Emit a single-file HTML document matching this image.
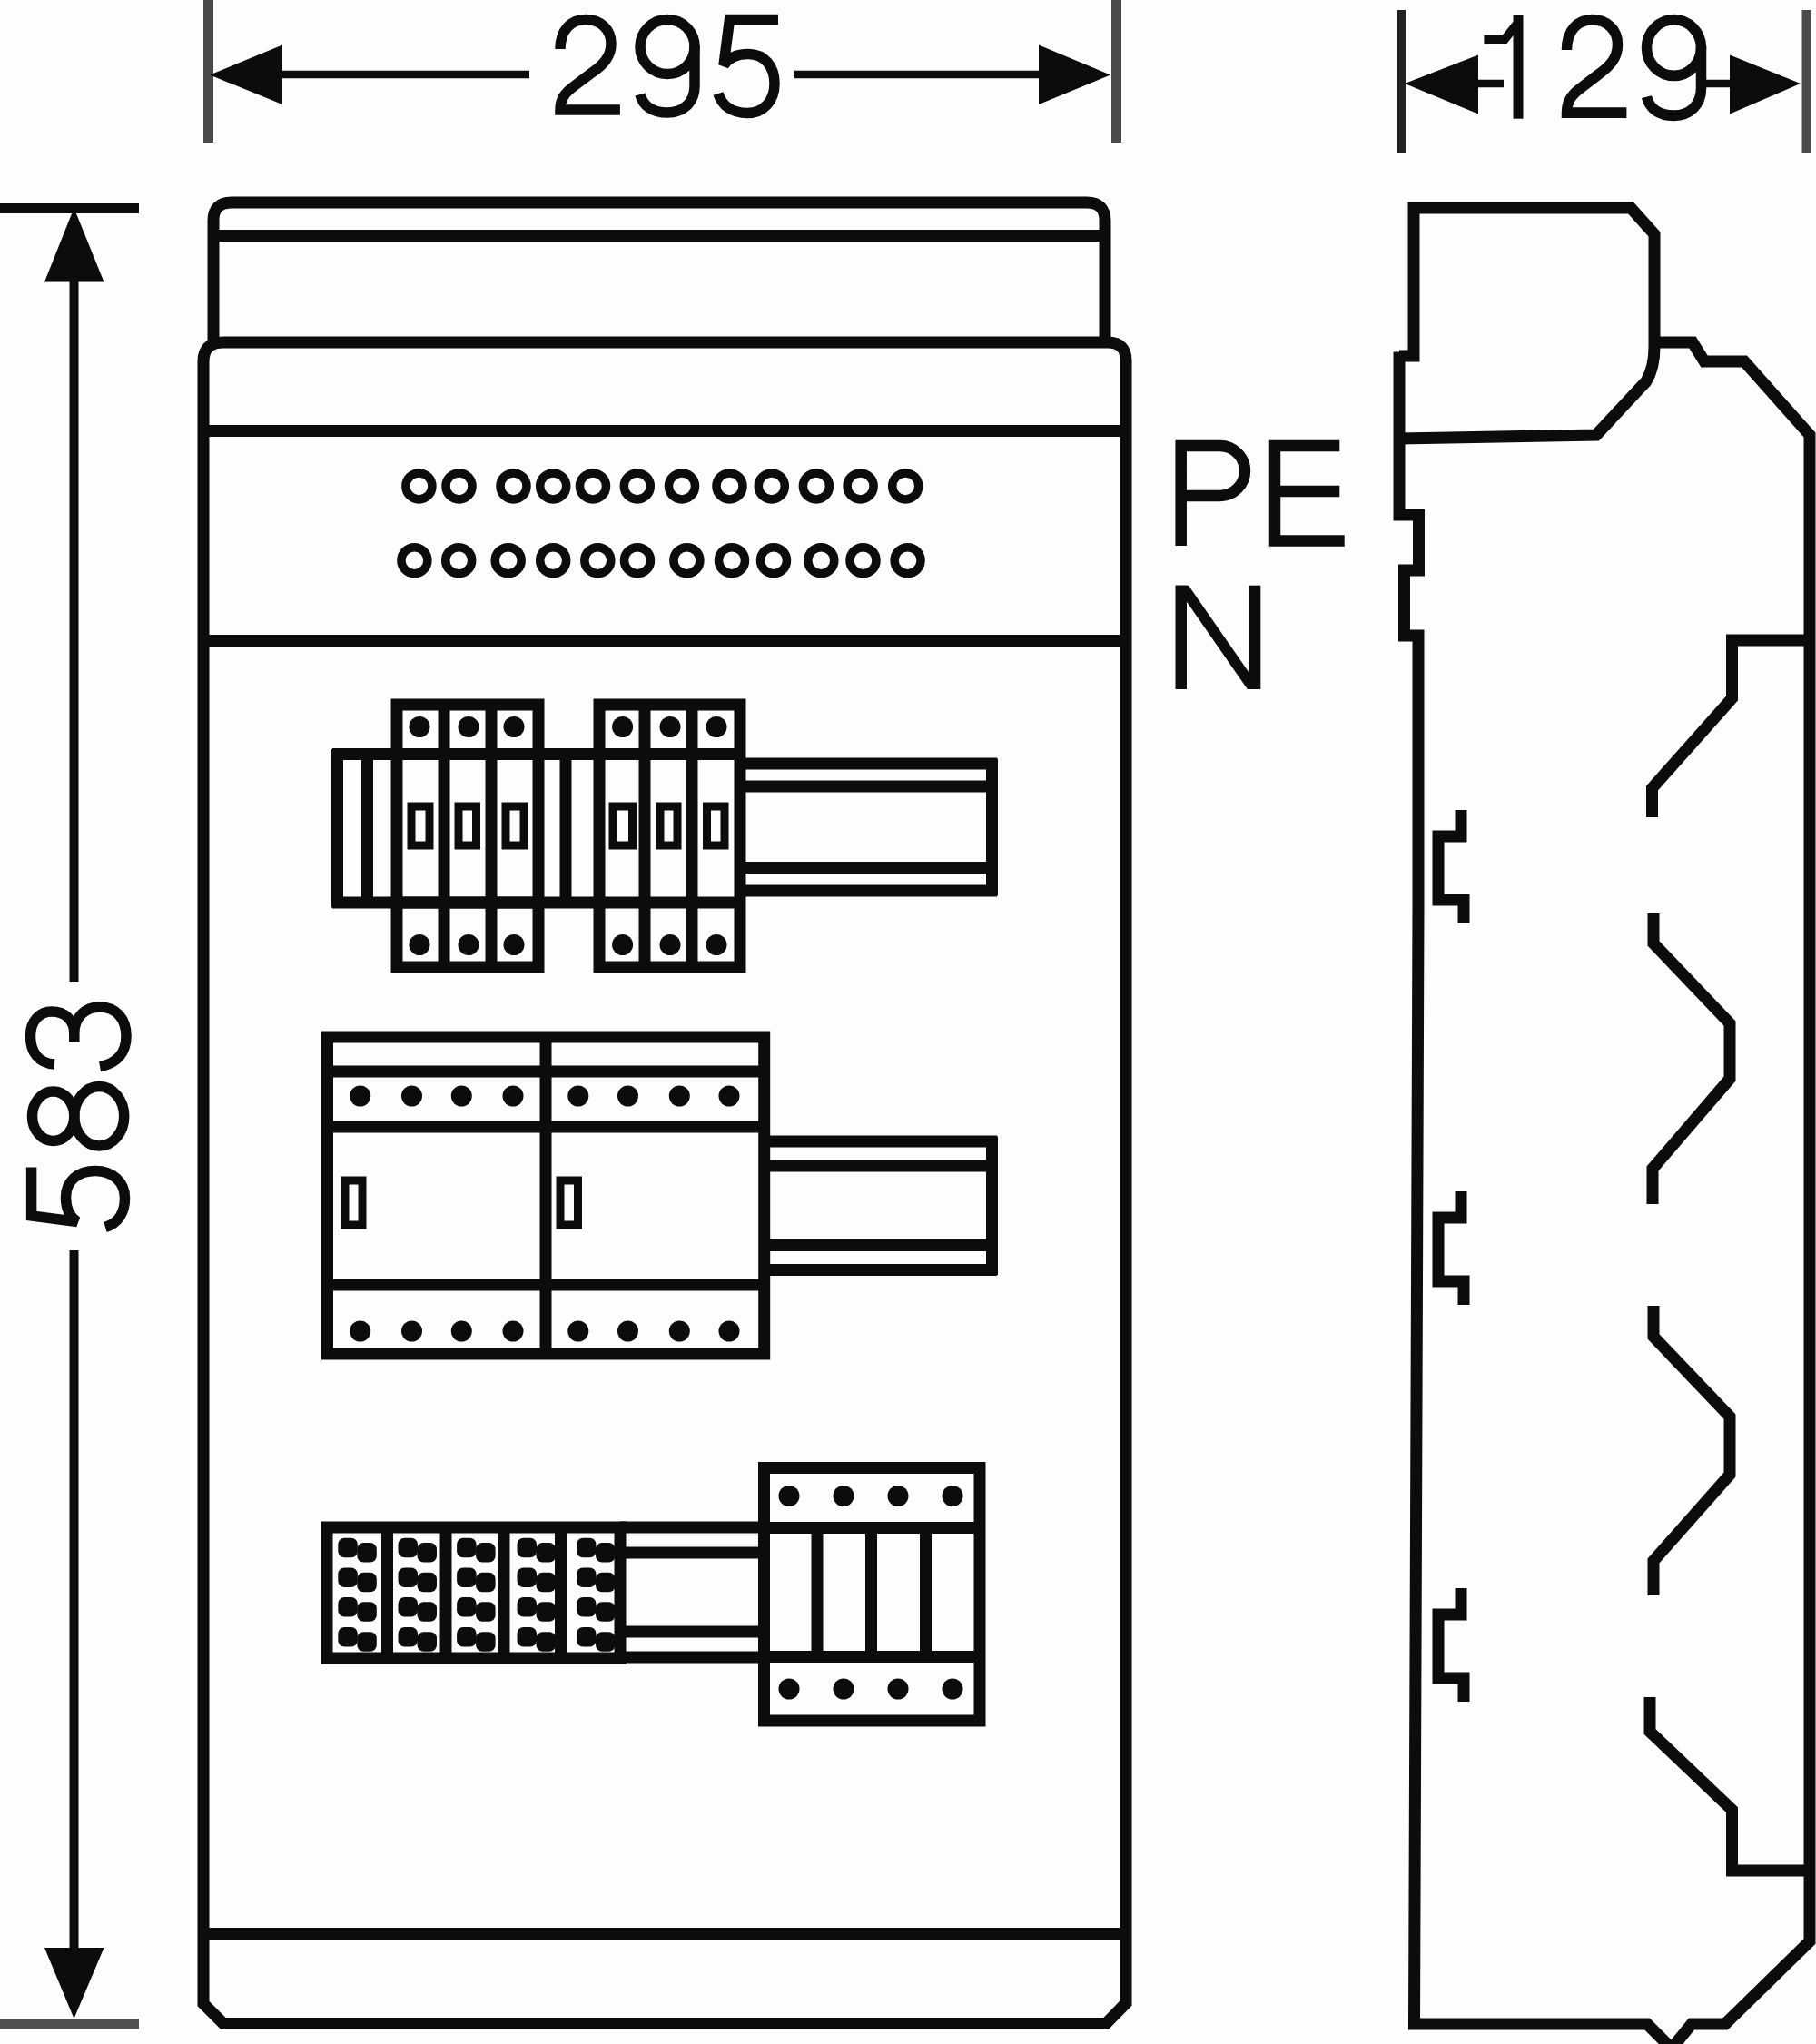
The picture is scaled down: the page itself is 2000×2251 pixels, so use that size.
<!DOCTYPE html>
<html><head><meta charset="utf-8"><title>Diagram</title>
<style>html,body{margin:0;padding:0;background:#fdfdfd;}svg{display:block}</style></head>
<body><svg width="2000" height="2251" viewBox="0 0 2000 2251" stroke-linecap="butt" stroke-linejoin="miter">
<rect width="2000" height="2251" fill="#fdfdfd"/>
<line x1="229.5" y1="0" x2="229.5" y2="157" stroke="#4a4a4a" stroke-width="11"/>
<line x1="1229.5" y1="0" x2="1229.5" y2="157" stroke="#4a4a4a" stroke-width="11"/>
<line x1="300" y1="82" x2="583" y2="82" stroke="#0c0c0c" stroke-width="8.5"/>
<line x1="875" y1="82" x2="1150" y2="82" stroke="#0c0c0c" stroke-width="8.5"/>
<polygon points="231,82.5 311,49.5 311,115" fill="#0c0c0c"/>
<polygon points="1223,82.5 1144,49.5 1144,115" fill="#0c0c0c"/>
<line x1="1543.5" y1="11" x2="1543.5" y2="168" stroke="#222" stroke-width="10"/>
<line x1="1989.5" y1="11" x2="1989.5" y2="168" stroke="#4a4a4a" stroke-width="10"/>
<line x1="1620" y1="92" x2="1656" y2="92" stroke="#0c0c0c" stroke-width="8.5"/>
<line x1="1874" y1="92" x2="1910" y2="92" stroke="#0c0c0c" stroke-width="8.5"/>
<polygon points="1547,92 1628,60.5 1628,125.5" fill="#0c0c0c"/>
<polygon points="1983,92 1905,60.5 1905,125.5" fill="#0c0c0c"/>
<line x1="0" y1="229.5" x2="153" y2="229.5" stroke="#0c0c0c" stroke-width="11"/>
<line x1="0" y1="2229" x2="153" y2="2229" stroke="#505050" stroke-width="11"/>
<line x1="81.5" y1="300" x2="81.5" y2="1081" stroke="#0c0c0c" stroke-width="10"/>
<line x1="81.5" y1="1377" x2="81.5" y2="2150" stroke="#0c0c0c" stroke-width="10"/>
<polygon points="81.5,229 49,310.5 114.5,310.5" fill="#0c0c0c"/>
<polygon points="81.5,2223 49,2145 114.5,2145" fill="#0c0c0c"/>
<path d="M617,54 C617,33 629,21.5 645,21.5 C662,21.5 673,33 673,48 C673,62 665,71 652,80 L632,95 C621,103 617,110 617,121 H682.9" fill="none" stroke="#0c0c0c" stroke-width="11.5" />
<path d="M765,50 V95 C765,113 752,124 735,124 C718,124 708,116 705,104" fill="none" stroke="#0c0c0c" stroke-width="11.5" />
<path d="M857,21.6 H803.5 L797,72 C803,63 813,59.5 824,59.5 C842,59.5 853,73 853,92 C853,111 841,124.5 823,124.5 C806,124.5 795,116 791,103" fill="none" stroke="#0c0c0c" stroke-width="11.5" />
<ellipse cx="735" cy="51.5" rx="30" ry="30" fill="none" stroke="#0c0c0c" stroke-width="11.5"/>
<g transform="translate(1108.5,-0.5) scale(1,1.03)">
<path d="M617,54 C617,33 629,21.5 645,21.5 C662,21.5 673,33 673,48 C673,62 665,71 652,80 L632,95 C621,103 617,110 617,121 H682.9" fill="none" stroke="#0c0c0c" stroke-width="11.5" />
<path d="M765,50 V95 C765,113 752,124 735,124 C718,124 708,116 705,104" fill="none" stroke="#0c0c0c" stroke-width="11.5" />
<ellipse cx="735" cy="51.5" rx="30" ry="30" fill="none" stroke="#0c0c0c" stroke-width="11.5"/>
</g>
<rect x="1666.5" y="16.2" width="11" height="114.5" fill="#0c0c0c"/>
<path d="M1634.4,43.5 H1657 L1670,27" fill="none" stroke="#0c0c0c" stroke-width="9.5" />
<g transform="matrix(0,-1,1,0,13,2142.5)">
<path d="M857,21.6 H803.5 L797,72 C803,63 813,59.5 824,59.5 C842,59.5 853,73 853,92 C853,111 841,124.5 823,124.5 C806,124.5 795,116 791,103" fill="none" stroke="#0c0c0c" stroke-width="11.5" />
</g>
<g transform="matrix(0,-1,1,0,12,1180)">
<path d="M8,48 C9,30 22,21.5 39,21.5 C56,21.5 66,32 66,45 C66,60 56,69.8 42,69.8 H33 M42,69.8 C60,69.8 71,82 71,98 C71,116 58,127 39,127 C22,127 9,118 5.5,98" fill="none" stroke="#0c0c0c" stroke-width="11.5" />
</g>
<ellipse cx="58.65" cy="1229.2" rx="23.15" ry="27.2" fill="none" stroke="#0c0c0c" stroke-width="11.5"/>
<ellipse cx="109.25" cy="1229.2" rx="27.45" ry="32.7" fill="none" stroke="#0c0c0c" stroke-width="11.5"/>
<path d="M235,380 V243 Q235,223 255,223 H1197 Q1217,223 1217,243 V380" fill="none" stroke="#0c0c0c" stroke-width="13" />
<line x1="235" y1="259.5" x2="1217" y2="259.5" stroke="#0c0c0c" stroke-width="13"/>
<path d="M246,377 H1220 Q1240,377 1240,397 V2206 L1218,2228.5 H246 L224,2206.5 V398 Q224,377 246,377 Z" fill="none" stroke="#0c0c0c" stroke-width="13" />
<line x1="224" y1="474.5" x2="1240" y2="474.5" stroke="#0c0c0c" stroke-width="13"/>
<line x1="224" y1="705.5" x2="1240" y2="705.5" stroke="#0c0c0c" stroke-width="13"/>
<line x1="224" y1="2129.5" x2="1240" y2="2129.5" stroke="#0c0c0c" stroke-width="13"/>
<circle cx="461.4" cy="535.4" r="14.5" fill="none" stroke="#0c0c0c" stroke-width="9.5"/>
<circle cx="505.5" cy="535.4" r="14.5" fill="none" stroke="#0c0c0c" stroke-width="9.5"/>
<circle cx="565.5" cy="535.4" r="14.5" fill="none" stroke="#0c0c0c" stroke-width="9.5"/>
<circle cx="609.2" cy="535.4" r="14.5" fill="none" stroke="#0c0c0c" stroke-width="9.5"/>
<circle cx="653" cy="535.4" r="14.5" fill="none" stroke="#0c0c0c" stroke-width="9.5"/>
<circle cx="701.8" cy="535.4" r="14.5" fill="none" stroke="#0c0c0c" stroke-width="9.5"/>
<circle cx="751" cy="535.4" r="14.5" fill="none" stroke="#0c0c0c" stroke-width="9.5"/>
<circle cx="803.5" cy="535.4" r="14.5" fill="none" stroke="#0c0c0c" stroke-width="9.5"/>
<circle cx="849.8" cy="535.4" r="14.5" fill="none" stroke="#0c0c0c" stroke-width="9.5"/>
<circle cx="898.9" cy="535.4" r="14.5" fill="none" stroke="#0c0c0c" stroke-width="9.5"/>
<circle cx="947.6" cy="535.4" r="14.5" fill="none" stroke="#0c0c0c" stroke-width="9.5"/>
<circle cx="997.2" cy="535.4" r="14.5" fill="none" stroke="#0c0c0c" stroke-width="9.5"/>
<circle cx="456.4" cy="617.2" r="14.5" fill="none" stroke="#0c0c0c" stroke-width="9.5"/>
<circle cx="505.2" cy="617.2" r="14.5" fill="none" stroke="#0c0c0c" stroke-width="9.5"/>
<circle cx="559.7" cy="617.2" r="14.5" fill="none" stroke="#0c0c0c" stroke-width="9.5"/>
<circle cx="609.2" cy="617.2" r="14.5" fill="none" stroke="#0c0c0c" stroke-width="9.5"/>
<circle cx="658.3" cy="617.2" r="14.5" fill="none" stroke="#0c0c0c" stroke-width="9.5"/>
<circle cx="702" cy="617.2" r="14.5" fill="none" stroke="#0c0c0c" stroke-width="9.5"/>
<circle cx="756.4" cy="617.2" r="14.5" fill="none" stroke="#0c0c0c" stroke-width="9.5"/>
<circle cx="806" cy="617.2" r="14.5" fill="none" stroke="#0c0c0c" stroke-width="9.5"/>
<circle cx="852" cy="617.2" r="14.5" fill="none" stroke="#0c0c0c" stroke-width="9.5"/>
<circle cx="904.3" cy="617.2" r="14.5" fill="none" stroke="#0c0c0c" stroke-width="9.5"/>
<circle cx="950.5" cy="617.2" r="14.5" fill="none" stroke="#0c0c0c" stroke-width="9.5"/>
<circle cx="999.6" cy="617.2" r="14.5" fill="none" stroke="#0c0c0c" stroke-width="9.5"/>
<path d="M1300.7,601 V491 H1343.5 A27.5,27.5 0 0 1 1343.5,546 H1300.7" fill="none" stroke="#0c0c0c" stroke-width="12.5" stroke-linejoin="miter"/>
<path d="M1475.3,491 H1404 V595.5 H1480.7 M1404,541 H1475.3" fill="none" stroke="#0c0c0c" stroke-width="12.5" />
<rect x="1294.5" y="644.7" width="12.5" height="114.3" fill="#0c0c0c"/>
<rect x="1375.8" y="644.7" width="12.5" height="114.3" fill="#0c0c0c"/>
<polygon points="1294.5,644.7 1309,644.7 1388.3,759 1373.8,759" fill="#0c0c0c"/>
<line x1="366" y1="830.5" x2="660" y2="830.5" stroke="#0c0c0c" stroke-width="13"/>
<line x1="366" y1="994" x2="660" y2="994" stroke="#0c0c0c" stroke-width="13"/>
<line x1="371.5" y1="825" x2="371.5" y2="999.5" stroke="#0c0c0c" stroke-width="13"/>
<line x1="404.5" y1="830" x2="404.5" y2="994" stroke="#0c0c0c" stroke-width="13"/>
<line x1="623" y1="830" x2="623" y2="994" stroke="#0c0c0c" stroke-width="13"/>
<line x1="815" y1="841" x2="1098" y2="841" stroke="#0c0c0c" stroke-width="13"/>
<line x1="815" y1="866" x2="1092" y2="866" stroke="#0c0c0c" stroke-width="13"/>
<line x1="815" y1="955.5" x2="1092" y2="955.5" stroke="#0c0c0c" stroke-width="13"/>
<line x1="815" y1="981" x2="1098" y2="981" stroke="#0c0c0c" stroke-width="13"/>
<line x1="1092.5" y1="835.5" x2="1092.5" y2="986.5" stroke="#0c0c0c" stroke-width="13"/>
<rect x="437" y="776" width="156" height="289" fill="none" stroke="#0c0c0c" stroke-width="13"/>
<line x1="489" y1="776" x2="489" y2="1065" stroke="#0c0c0c" stroke-width="13"/>
<line x1="541" y1="776" x2="541" y2="1065" stroke="#0c0c0c" stroke-width="13"/>
<line x1="437" y1="830.5" x2="593" y2="830.5" stroke="#0c0c0c" stroke-width="13"/>
<line x1="437" y1="994" x2="593" y2="994" stroke="#0c0c0c" stroke-width="13"/>
<circle cx="462" cy="800.5" r="11.5" fill="#0c0c0c"/>
<circle cx="462" cy="1040.5" r="11.5" fill="#0c0c0c"/>
<circle cx="516" cy="800.5" r="11.5" fill="#0c0c0c"/>
<circle cx="516" cy="1040.5" r="11.5" fill="#0c0c0c"/>
<circle cx="566" cy="800.5" r="11.5" fill="#0c0c0c"/>
<circle cx="566" cy="1040.5" r="11.5" fill="#0c0c0c"/>
<rect x="453" y="888" width="20" height="43" fill="none" stroke="#0c0c0c" stroke-width="9"/>
<rect x="505" y="888" width="19.5" height="43" fill="none" stroke="#0c0c0c" stroke-width="9"/>
<rect x="557" y="888" width="20" height="43" fill="none" stroke="#0c0c0c" stroke-width="9"/>
<rect x="660" y="776" width="155" height="289" fill="none" stroke="#0c0c0c" stroke-width="13"/>
<line x1="710" y1="776" x2="710" y2="1065" stroke="#0c0c0c" stroke-width="13"/>
<line x1="762" y1="776" x2="762" y2="1065" stroke="#0c0c0c" stroke-width="13"/>
<line x1="660" y1="830.5" x2="815" y2="830.5" stroke="#0c0c0c" stroke-width="13"/>
<line x1="660" y1="994" x2="815" y2="994" stroke="#0c0c0c" stroke-width="13"/>
<circle cx="685.6" cy="800.5" r="11.5" fill="#0c0c0c"/>
<circle cx="685.6" cy="1040.5" r="11.5" fill="#0c0c0c"/>
<circle cx="738" cy="800.5" r="11.5" fill="#0c0c0c"/>
<circle cx="738" cy="1040.5" r="11.5" fill="#0c0c0c"/>
<circle cx="789" cy="800.5" r="11.5" fill="#0c0c0c"/>
<circle cx="789" cy="1040.5" r="11.5" fill="#0c0c0c"/>
<rect x="675" y="888" width="21.5" height="43" fill="none" stroke="#0c0c0c" stroke-width="9"/>
<rect x="727" y="888" width="19" height="43" fill="none" stroke="#0c0c0c" stroke-width="9"/>
<rect x="778.5" y="888" width="19.5" height="43" fill="none" stroke="#0c0c0c" stroke-width="9"/>
<rect x="360.5" y="1142" width="481.20000000000005" height="349" fill="none" stroke="#0c0c0c" stroke-width="13"/>
<line x1="601" y1="1142" x2="601" y2="1491" stroke="#0c0c0c" stroke-width="13"/>
<line x1="360.5" y1="1180" x2="841.7" y2="1180" stroke="#0c0c0c" stroke-width="13"/>
<line x1="360.5" y1="1241" x2="841.7" y2="1241" stroke="#0c0c0c" stroke-width="13"/>
<line x1="360.5" y1="1415" x2="841.7" y2="1415" stroke="#0c0c0c" stroke-width="13"/>
<circle cx="396.7" cy="1207" r="11.5" fill="#0c0c0c"/>
<circle cx="396.7" cy="1466" r="11.5" fill="#0c0c0c"/>
<circle cx="453.5" cy="1207" r="11.5" fill="#0c0c0c"/>
<circle cx="453.5" cy="1466" r="11.5" fill="#0c0c0c"/>
<circle cx="508.3" cy="1207" r="11.5" fill="#0c0c0c"/>
<circle cx="508.3" cy="1466" r="11.5" fill="#0c0c0c"/>
<circle cx="565" cy="1207" r="11.5" fill="#0c0c0c"/>
<circle cx="565" cy="1466" r="11.5" fill="#0c0c0c"/>
<circle cx="636.8" cy="1207" r="11.5" fill="#0c0c0c"/>
<circle cx="636.8" cy="1466" r="11.5" fill="#0c0c0c"/>
<circle cx="691.5" cy="1207" r="11.5" fill="#0c0c0c"/>
<circle cx="691.5" cy="1466" r="11.5" fill="#0c0c0c"/>
<circle cx="748.3" cy="1207" r="11.5" fill="#0c0c0c"/>
<circle cx="748.3" cy="1466" r="11.5" fill="#0c0c0c"/>
<circle cx="803" cy="1207" r="11.5" fill="#0c0c0c"/>
<circle cx="803" cy="1466" r="11.5" fill="#0c0c0c"/>
<rect x="380" y="1300" width="19" height="49" fill="none" stroke="#0c0c0c" stroke-width="9"/>
<rect x="617" y="1300" width="19.5" height="49" fill="none" stroke="#0c0c0c" stroke-width="9"/>
<line x1="841.7" y1="1257" x2="1098" y2="1257" stroke="#0c0c0c" stroke-width="13"/>
<line x1="841.7" y1="1284" x2="1092" y2="1284" stroke="#0c0c0c" stroke-width="13"/>
<line x1="841.7" y1="1371.5" x2="1092" y2="1371.5" stroke="#0c0c0c" stroke-width="13"/>
<line x1="841.7" y1="1398.5" x2="1098" y2="1398.5" stroke="#0c0c0c" stroke-width="13"/>
<line x1="1092.5" y1="1251.5" x2="1092.5" y2="1404" stroke="#0c0c0c" stroke-width="13"/>
<rect x="360" y="1682" width="323" height="144" fill="none" stroke="#0c0c0c" stroke-width="13"/>
<line x1="426.5" y1="1682" x2="426.5" y2="1826" stroke="#0c0c0c" stroke-width="13"/>
<line x1="491" y1="1682" x2="491" y2="1826" stroke="#0c0c0c" stroke-width="13"/>
<line x1="555" y1="1682" x2="555" y2="1826" stroke="#0c0c0c" stroke-width="13"/>
<line x1="617.5" y1="1682" x2="617.5" y2="1826" stroke="#0c0c0c" stroke-width="13"/>
<rect x="372.3" y="1693.8" width="21.5" height="21.5" rx="7" fill="#0c0c0c"/>
<rect x="393.3" y="1699.1" width="21.5" height="21.5" rx="7" fill="#0c0c0c"/>
<rect x="372.3" y="1726.5" width="21.5" height="21.5" rx="7" fill="#0c0c0c"/>
<rect x="393.3" y="1731.8" width="21.5" height="21.5" rx="7" fill="#0c0c0c"/>
<rect x="372.3" y="1759.0" width="21.5" height="21.5" rx="7" fill="#0c0c0c"/>
<rect x="393.3" y="1764.3" width="21.5" height="21.5" rx="7" fill="#0c0c0c"/>
<rect x="372.3" y="1792.0" width="21.5" height="21.5" rx="7" fill="#0c0c0c"/>
<rect x="393.3" y="1797.3" width="21.5" height="21.5" rx="7" fill="#0c0c0c"/>
<rect x="438.5" y="1693.8" width="21.5" height="21.5" rx="7" fill="#0c0c0c"/>
<rect x="459.5" y="1699.1" width="21.5" height="21.5" rx="7" fill="#0c0c0c"/>
<rect x="438.5" y="1726.5" width="21.5" height="21.5" rx="7" fill="#0c0c0c"/>
<rect x="459.5" y="1731.8" width="21.5" height="21.5" rx="7" fill="#0c0c0c"/>
<rect x="438.5" y="1759.0" width="21.5" height="21.5" rx="7" fill="#0c0c0c"/>
<rect x="459.5" y="1764.3" width="21.5" height="21.5" rx="7" fill="#0c0c0c"/>
<rect x="438.5" y="1792.0" width="21.5" height="21.5" rx="7" fill="#0c0c0c"/>
<rect x="459.5" y="1797.3" width="21.5" height="21.5" rx="7" fill="#0c0c0c"/>
<rect x="503.1" y="1693.8" width="21.5" height="21.5" rx="7" fill="#0c0c0c"/>
<rect x="524.1" y="1699.1" width="21.5" height="21.5" rx="7" fill="#0c0c0c"/>
<rect x="503.1" y="1726.5" width="21.5" height="21.5" rx="7" fill="#0c0c0c"/>
<rect x="524.1" y="1731.8" width="21.5" height="21.5" rx="7" fill="#0c0c0c"/>
<rect x="503.1" y="1759.0" width="21.5" height="21.5" rx="7" fill="#0c0c0c"/>
<rect x="524.1" y="1764.3" width="21.5" height="21.5" rx="7" fill="#0c0c0c"/>
<rect x="503.1" y="1792.0" width="21.5" height="21.5" rx="7" fill="#0c0c0c"/>
<rect x="524.1" y="1797.3" width="21.5" height="21.5" rx="7" fill="#0c0c0c"/>
<rect x="569.5" y="1693.8" width="21.5" height="21.5" rx="7" fill="#0c0c0c"/>
<rect x="590.5" y="1699.1" width="21.5" height="21.5" rx="7" fill="#0c0c0c"/>
<rect x="569.5" y="1726.5" width="21.5" height="21.5" rx="7" fill="#0c0c0c"/>
<rect x="590.5" y="1731.8" width="21.5" height="21.5" rx="7" fill="#0c0c0c"/>
<rect x="569.5" y="1759.0" width="21.5" height="21.5" rx="7" fill="#0c0c0c"/>
<rect x="590.5" y="1764.3" width="21.5" height="21.5" rx="7" fill="#0c0c0c"/>
<rect x="569.5" y="1792.0" width="21.5" height="21.5" rx="7" fill="#0c0c0c"/>
<rect x="590.5" y="1797.3" width="21.5" height="21.5" rx="7" fill="#0c0c0c"/>
<rect x="635.0" y="1693.8" width="21.5" height="21.5" rx="7" fill="#0c0c0c"/>
<rect x="656.0" y="1699.1" width="21.5" height="21.5" rx="7" fill="#0c0c0c"/>
<rect x="635.0" y="1726.5" width="21.5" height="21.5" rx="7" fill="#0c0c0c"/>
<rect x="656.0" y="1731.8" width="21.5" height="21.5" rx="7" fill="#0c0c0c"/>
<rect x="635.0" y="1759.0" width="21.5" height="21.5" rx="7" fill="#0c0c0c"/>
<rect x="656.0" y="1764.3" width="21.5" height="21.5" rx="7" fill="#0c0c0c"/>
<rect x="635.0" y="1792.0" width="21.5" height="21.5" rx="7" fill="#0c0c0c"/>
<rect x="656.0" y="1797.3" width="21.5" height="21.5" rx="7" fill="#0c0c0c"/>
<line x1="683" y1="1682" x2="841.5" y2="1682" stroke="#0c0c0c" stroke-width="13"/>
<line x1="683" y1="1825" x2="841.5" y2="1825" stroke="#0c0c0c" stroke-width="13"/>
<line x1="688" y1="1710" x2="841.5" y2="1710" stroke="#0c0c0c" stroke-width="13"/>
<line x1="688" y1="1797" x2="841.5" y2="1797" stroke="#0c0c0c" stroke-width="13"/>
<rect x="841.5" y="1616.5" width="237.5" height="278.5" fill="none" stroke="#0c0c0c" stroke-width="13"/>
<line x1="841.5" y1="1682.5" x2="1079" y2="1682.5" stroke="#0c0c0c" stroke-width="13"/>
<line x1="841.5" y1="1824.5" x2="1079" y2="1824.5" stroke="#0c0c0c" stroke-width="13"/>
<line x1="900" y1="1682.5" x2="900" y2="1824.5" stroke="#0c0c0c" stroke-width="13"/>
<line x1="959.5" y1="1682.5" x2="959.5" y2="1824.5" stroke="#0c0c0c" stroke-width="13"/>
<line x1="1019.5" y1="1682.5" x2="1019.5" y2="1824.5" stroke="#0c0c0c" stroke-width="13"/>
<circle cx="869" cy="1647.5" r="11.5" fill="#0c0c0c"/>
<circle cx="869" cy="1860" r="11.5" fill="#0c0c0c"/>
<circle cx="929" cy="1647.5" r="11.5" fill="#0c0c0c"/>
<circle cx="929" cy="1860" r="11.5" fill="#0c0c0c"/>
<circle cx="989" cy="1647.5" r="11.5" fill="#0c0c0c"/>
<circle cx="989" cy="1860" r="11.5" fill="#0c0c0c"/>
<circle cx="1049" cy="1647.5" r="11.5" fill="#0c0c0c"/>
<circle cx="1049" cy="1860" r="11.5" fill="#0c0c0c"/>
<path d="M1541,392 H1557 V229 H1796 L1822,258 V382 Q1822,405 1813,420 L1758,479 L1541,483" fill="none" stroke="#0c0c0c" stroke-width="13" />
<path d="M1541,387.5 V567 H1562.5 V628 H1546.5 V700 H1562 V1000 L1557.5,2229 H1814 L1841,2256 L1863,2229 H1900 L1993,2138 V479 L1921,398 H1877 L1864,377 H1822" fill="none" stroke="#0c0c0c" stroke-width="13" />
<path d="M1990,705 H1907.5 V769 L1819.5,868 V900" fill="none" stroke="#0c0c0c" stroke-width="13" />
<path d="M1821,1006 V1039 L1905,1127 V1188 L1820,1287 V1326" fill="none" stroke="#0c0c0c" stroke-width="13" />
<path d="M1821,1438 V1472 L1905,1560 V1624 L1821,1719 V1757" fill="none" stroke="#0c0c0c" stroke-width="13" />
<path d="M1817,1869 V1907 L1907.5,1993 V2060 H1990" fill="none" stroke="#0c0c0c" stroke-width="13" />
<path d="M1609,892 V921 H1584 V991 H1612 V1017" fill="none" stroke="#0c0c0c" stroke-width="13" />
<path d="M1609,1312 V1341 H1584 V1411 H1612 V1437" fill="none" stroke="#0c0c0c" stroke-width="13" />
<path d="M1609,1749 V1778 H1584 V1848 H1612 V1874" fill="none" stroke="#0c0c0c" stroke-width="13" />
</svg></body></html>
